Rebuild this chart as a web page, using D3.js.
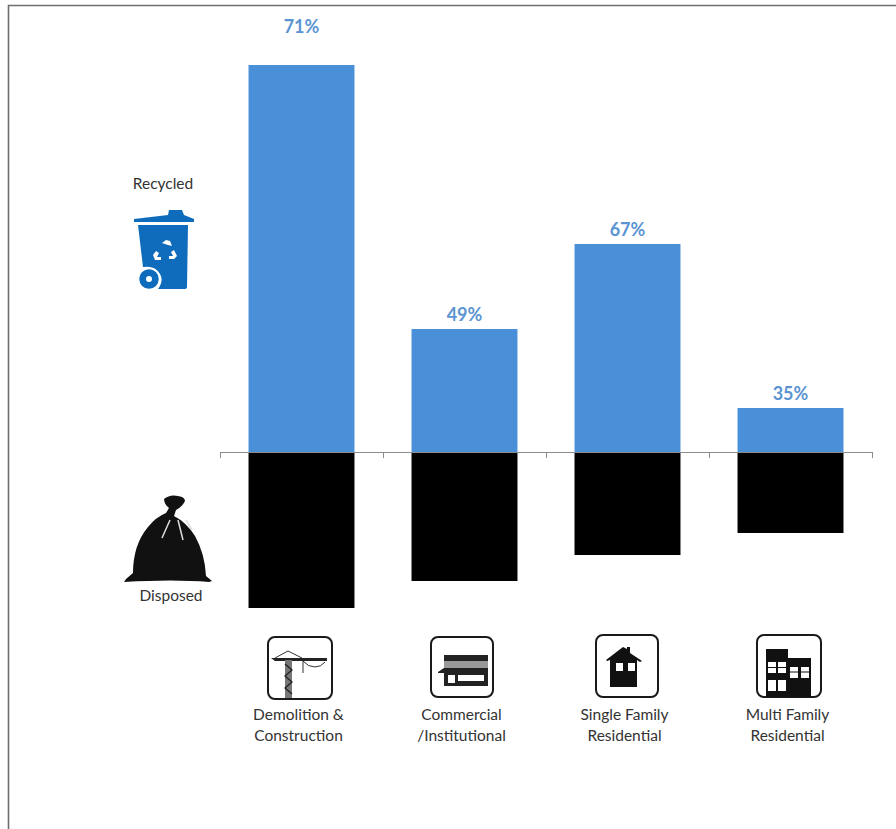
<!DOCTYPE html>
<html>
<head>
<meta charset="utf-8">
<script src="https://cdn.jsdelivr.net/npm/d3@7"></script>
<style>
  html, body { margin: 0; padding: 0; background: #fff; }
  svg { display: block; }
  text { font-family: Lato, "Open Sans", sans-serif; }
</style>
</head>
<body>
<svg id="chart" width="896" height="829"></svg>
<script>
// Waste generated per sector, recycled above the axis and disposed below it
const categories = ["Demolition & Construction", "Commercial /Institutional", "Single Family Residential", "Multi Family Residential"];
const categoryLines = [["Demolition &", "Construction"], ["Commercial", "/Institutional"], ["Single Family", "Residential"], ["Multi Family", "Residential"]];
const recycled = [387, 123, 208, 44];
const disposed = [156, 129, 103, 81];

const blue = "#4a90d8";
const svg = d3.select("#chart");

const x = d3.scaleBand().domain(categories).range([220, 872]).paddingInner(0.35).paddingOuter(0.175);
const y = d3.scaleLinear().domain([-156, 387]).range([608, 65]);
const share = d3.format(".0%");

// Outer frame
svg.append("path").attr("d", "M8.5,829V5.5H896").attr("fill", "none").attr("stroke", "#6e6e6e").attr("stroke-width", 1.6);

// Bars
svg.append("g").selectAll("rect").data(categories).join("rect")
  .attr("x", d => x(d)).attr("width", x.bandwidth())
  .attr("y", (d, i) => y(recycled[i])).attr("height", (d, i) => y(0) - y(recycled[i]))
  .attr("fill", blue);
svg.append("g").selectAll("rect").data(categories).join("rect")
  .attr("x", d => x(d)).attr("width", x.bandwidth())
  .attr("y", y(0)).attr("height", (d, i) => y(-disposed[i]) - y(0))
  .attr("fill", "#000");

// Category axis line with ticks between the bands
const axisG = svg.append("g").attr("stroke", "#8c8c8c").attr("stroke-width", 1);
axisG.append("line").attr("x1", 220).attr("x2", 872).attr("y1", y(0) + 0.5).attr("y2", y(0) + 0.5);
axisG.selectAll("line.tick").data(d3.range(5)).join("line").attr("class", "tick")
  .attr("x1", i => 220.5 + i * x.step()).attr("x2", i => 220.5 + i * x.step())
  .attr("y1", y(0)).attr("y2", y(0) + 6);

// Recycled share of each sector's total
svg.append("g").selectAll("text").data(categories).join("text")
  .attr("x", d => x(d) + x.bandwidth() / 2)
  .attr("y", (d, i) => y(recycled[i]) - 32 * (i === 0) - 8 * (i !== 0))
  .attr("text-anchor", "middle").attr("font-size", 18).attr("font-weight", 700).attr("fill", "#5b94d2")
  .text((d, i) => share(recycled[i] / (recycled[i] + disposed[i])));

// Category labels
const labels = svg.append("g").selectAll("text").data(categories).join("text")
  .attr("x", d => x(d) + x.bandwidth() / 2 - 4 + 0)
  .attr("text-anchor", "middle").attr("font-size", 15.5).attr("fill", "#333");
labels.each(function (d, i) {
  d3.select(this).selectAll("tspan").data(categoryLines[i]).join("tspan")
    .attr("x", x(d) + x.bandwidth() / 2 - 3)
    .attr("y", (t, j) => 720 + j * 21)
    .text(t => t);
});

// Side captions
svg.append("text").attr("x", 163).attr("y", 189).attr("text-anchor", "middle").attr("font-size", 15.5).attr("fill", "#333").text("Recycled");
svg.append("text").attr("x", 171).attr("y", 601).attr("text-anchor", "middle").attr("font-size", 15.5).attr("fill", "#333").text("Disposed");

// Recycling bin
const bin = svg.append("g").attr("fill", "#0f6cbd");
bin.append("path").attr("d", "M168,215l1,-5h13l2,5l10,4v3h-60v-3z");
bin.append("path").attr("d", "M138,225h50l-1,62q0,2,-3,2h-26q6,-8,2,-15q-5,-9,-17,-7z");
bin.append("circle").attr("cx", 149).attr("cy", 279).attr("r", 10.5).attr("stroke", "#fff").attr("stroke-width", 1.5);
bin.append("circle").attr("cx", 149).attr("cy", 279).attr("r", 3).attr("fill", "#fff");
bin.append("path").attr("d", "M162,243l4,-3l4,1l2,5l-4,-1zM174,250l3,6l-3,3h-5v-3h4l-2,-4zM153,255l3,-4l3,2l-2,4h4v3h-6z").attr("fill", "#fff");

// Rubbish bag
const bag = svg.append("g").attr("fill", "#111");
bag.append("path").attr("d", "M164,499q6,-5,14,-3q7,1,7,5q-3,6,-9,9l-2,6q12,6,21,20q10,18,11,40l6,5l-3,1q-35,-3,-85,0l2,-3l7,-6q0,-28,15,-46q8,-10,18,-14l3,-5q-5,-4,-5,-9z");
bag.append("path").attr("d", "M170,520l-8,18M178,520l5,20M186,520l6,10").attr("stroke", "#ddd").attr("stroke-width", 1.5).attr("fill", "none");

// Sector icons in rounded frames
const frames = [[268, 637, 64, 62], [431, 637, 62, 60], [596, 635, 62, 62], [757, 635, 64, 62]];
svg.append("g").selectAll("rect").data(frames).join("rect")
  .attr("x", d => d[0]).attr("y", d => d[1]).attr("width", d => d[2]).attr("height", d => d[3])
  .attr("rx", 7).attr("fill", "none").attr("stroke", "#1a1a1a").attr("stroke-width", 2);

// Crane
const crane = svg.append("g");
crane.append("path").attr("d", "M271,658h56v3h-34l2,0h-20z").attr("fill", "#222");
crane.append("path").attr("d", "M285,660h7v38h-7z").attr("fill", "#777");
crane.append("path").attr("d", "M285,664l7,6l-7,6l7,6l-7,6l7,6").attr("fill", "none").attr("stroke", "#222").attr("stroke-width", 1.3);
crane.append("path").attr("d", "M275,658l13,-7l14,7M303,661q5,6,12,6q6,0,10,-5M303,661v12").attr("fill", "none").attr("stroke", "#333").attr("stroke-width", 1);

// Storefront
const store = svg.append("g");
store.append("path").attr("d", "M444,655h44v6h-44z").attr("fill", "#222");
store.append("path").attr("d", "M444,661h44v7h-44z").attr("fill", "#999");
store.append("path").attr("d", "M438,672l6,-4h44v5h-50z").attr("fill", "#222");
store.append("path").fillRule;
store.append("path").attr("d", "M444,673h44v13h-44zM448,675v8h7v-8zM458,675v6h26v-6z").attr("fill", "#222").attr("fill-rule", "evenodd");

// House
const house = svg.append("g");
house.append("path").attr("d", "M606,660l17,-13l4,2v-2h3v6l12,8l-2,1l-3,-2v27h-27v-27l-3,1z M616,663v8h7v-8z M628,663v8h7v-8z").attr("fill", "#111").attr("fill-rule", "evenodd");

// Apartment blocks
const flats = svg.append("g");
flats.append("path").attr("d", "M766,649h22v9h-22z M766,658h22v8h-22z M788,658h23v39h-23z M766,666h22v31h-22z").attr("fill", "#111");
flats.selectAll("rect").data([[768, 662], [778, 662], [768, 680], [778, 680], [790, 667], [801, 667]]).join("rect")
  .attr("x", d => d[0]).attr("y", d => d[1]).attr("width", 8).attr("height", 11).attr("fill", "#fff");
flats.selectAll("line").data([[768, 667.5, 8], [778, 667.5, 8], [790, 672, 8], [801, 672, 8]]).join("line")
  .attr("x1", d => d[0]).attr("x2", d => d[0] + d[2]).attr("y1", d => d[1]).attr("y2", d => d[1]).attr("stroke", "#111");
</script>
</body>
</html>
